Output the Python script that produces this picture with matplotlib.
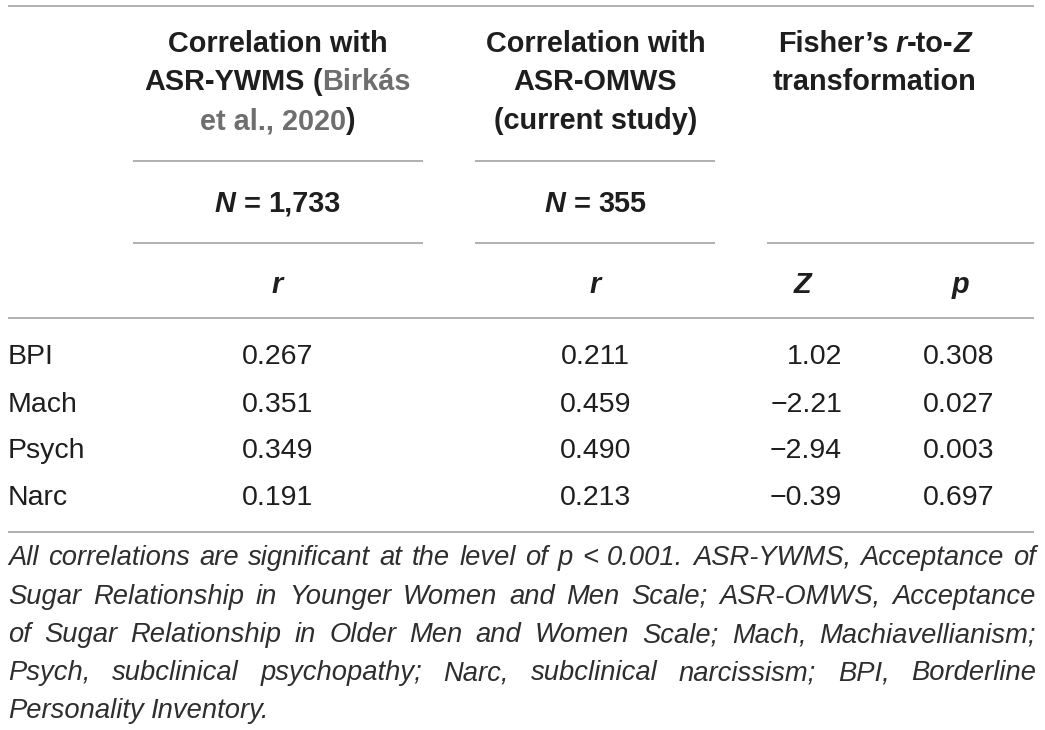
import matplotlib
matplotlib.use("Agg")
import matplotlib.pyplot as plt

# ---- data ----
row_labels = ["BPI", "Mach", "Psych", "Narc"]
r_ywms = [0.267, 0.351, 0.349, 0.191]
r_omws = [0.211, 0.459, 0.490, 0.213]
z_vals = [1.02, -2.21, -2.94, -0.39]
p_vals = [0.308, 0.027, 0.003, 0.697]
n_ywms = "1,733"
n_omws = "355"
footnote_lines = [
    "All correlations are significant at the level of p < 0.001. ASR-YWMS, Acceptance of",
    "Sugar Relationship in Younger Women and Men Scale; ASR-OMWS, Acceptance",
    "of Sugar Relationship in Older Men and Women Scale; Mach, Machiavellianism;",
    "Psych, subclinical psychopathy; Narc, subclinical narcissism; BPI, Borderline",
    "Personality Inventory.",
]

W, H = 1045, 730
FONT = "Liberation Sans"
TXT = "#1e1e1e"
GRAY = "#6e6e6e"
LINE = "#a3a3a3"
HFS = 20.8   # header font size (pt)
BFS = 20.5   # body font size
FFS = 19.7   # footnote font size

fig = plt.figure(figsize=(W / 100, H / 100), dpi=100)
ax = fig.add_axes([0, 0, 1, 1])
ax.set_xlim(0, W)
ax.set_ylim(H, 0)
ax.axis("off")
fig.canvas.draw()
renderer = fig.canvas.get_renderer()


def text_width(s, **kw):
    t = ax.text(0, 0, s, fontfamily=FONT, **kw)
    w = t.get_window_extent(renderer).width
    t.remove()
    return w


def space_width(**kw):
    return text_width("a a", **kw) - text_width("aa", **kw)


def draw_runs(runs, x, y, ha="center"):
    widths = []
    for s, kw in runs:
        if s == " ":
            widths.append(space_width(**kw))
        else:
            widths.append(text_width(s, **kw))
    total = sum(widths)
    if ha == "center":
        cx = x - total / 2
    elif ha == "right":
        cx = x - total
    else:
        cx = x
    for (s, kw), w in zip(runs, widths):
        if s != " ":
            ax.text(cx, y, s, fontfamily=FONT, va="baseline", ha="left", **kw)
        cx += w


def hline(y, x0, x1):
    ax.plot([x0, x1], [y, y], color=LINE, lw=1.2, solid_capstyle="butt")


B = dict(fontsize=HFS, fontweight="bold", color=TXT)
BG = dict(fontsize=HFS, fontweight="bold", color=GRAY)
BI = dict(fontsize=HFS, fontweight="bold", fontstyle="italic", color=TXT)

c1, c2, zc, pc = 277.5, 595.5, 842, 959

# rules
hline(5.5, 8, 1034)
hline(161, 133, 423)
hline(161, 475, 715)
hline(243, 133, 423)
hline(243, 475, 715)
hline(243, 767, 1034)
hline(318, 8, 1034)
hline(532, 8, 1034)

# header column 1
draw_runs([("Correlation with", B)], c1, 52)
draw_runs([("ASR-YWMS", B), (" ", B), ("(", B), ("Birkás", BG)], c1, 90.5)
draw_runs([("et al., 2020", BG), (")", B)], c1, 129)
# header column 2
draw_runs([("Correlation with", B)], c2, 52)
draw_runs([("ASR-OMWS", B)], c2, 90.5)
draw_runs([("(current study)", B)], c2, 129)
# header column 3
draw_runs([("Fisher\u2019s", B), (" ", B), ("r", BI), ("-to-", B), ("Z", BI)], 874.5, 52)
draw_runs([("transformation", B)], 874.5, 90.5)

# N row
draw_runs([("N", BI), (" ", B), ("=", B), (" ", B), (n_ywms, B)], c1, 212)
draw_runs([("N", BI), (" ", B), ("=", B), (" ", B), (n_omws, B)], c2, 212)

# stat labels
draw_runs([("r", BI)], c1, 293)
draw_runs([("r", BI)], c2, 293)
draw_runs([("Z", BI)], 802, 293)
draw_runs([("p", BI)], 960, 293)

# body rows
R = dict(fontsize=BFS, color=TXT, fontfamily=FONT, va="baseline")
row_y = [364, 411.5, 458, 505]
for lab, a, b, z, p, y in zip(row_labels, r_ywms, r_omws, z_vals, p_vals, row_y):
    ax.text(8, y, lab, ha="left", **R)
    ax.text(c1, y, f"{a:.3f}", ha="center", **R)
    ax.text(c2, y, f"{b:.3f}", ha="center", **R)
    ax.text(zc, y, f"{z:.2f}".replace("-", "\u2212"), ha="right", **R)
    ax.text(pc, y, f"{p:.3f}", ha="center", **R)

# footnote (justified)
F = dict(fontsize=FFS, fontstyle="italic", color="#2e2e2e")
fx0, fx1 = 8, 1036
foot_y = [565, 603.5, 642, 680, 718]
for i, (line, y) in enumerate(zip(footnote_lines, foot_y)):
    words = line.split(" ")
    ws = [text_width(w_, **F) for w_ in words]
    if i < len(footnote_lines) - 1 and len(words) > 1:
        gap = (fx1 - fx0 - sum(ws)) / (len(words) - 1)
    else:
        gap = space_width(**F)
    x = fx0
    for w_, wd in zip(words, ws):
        ax.text(x, y, w_, fontfamily=FONT, va="baseline", ha="left", **F)
        x += wd + gap

fig.savefig("out.png", dpi=100, facecolor="white")
